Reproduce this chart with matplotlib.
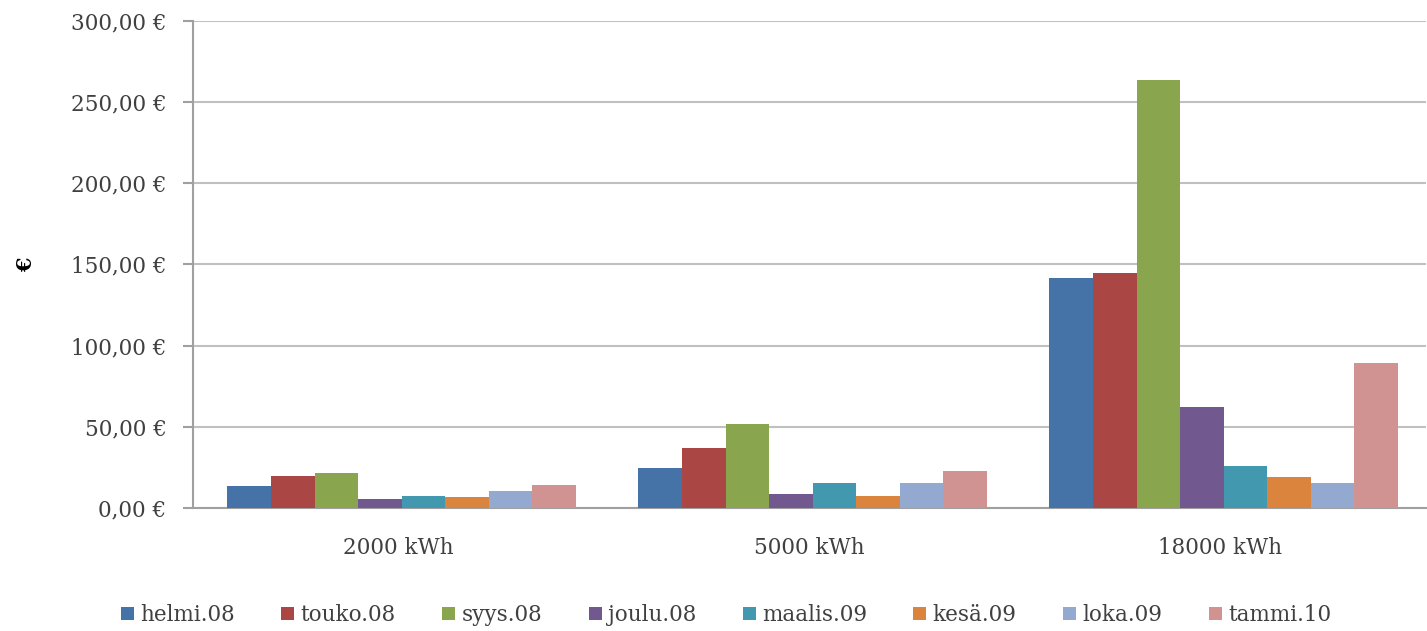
import numpy as np
import matplotlib.pyplot as plt
from matplotlib.ticker import FuncFormatter

plt.rcParams['font.family'] = ['DejaVu Serif']

categories = ['2000 kWh', '5000 kWh', '18000 kWh']
series = ['helmi.08', 'touko.08', 'syys.08', 'joulu.08', 'maalis.09', 'kesä.09', 'loka.09', 'tammi.10']
values = {
    'helmi.08':  [13.5, 24.8, 141.6],
    'touko.08':  [19.7, 36.7, 144.9],
    'syys.08':   [21.5, 51.9, 263.7],
    'joulu.08':  [5.3, 8.4, 62.0],
    'maalis.09': [7.6, 15.1, 26.0],
    'kesä.09':   [6.8, 7.6, 18.8],
    'loka.09':   [10.2, 15.1, 15.6],
    'tammi.10':  [13.9, 23.0, 89.5],
}
colors = ['#4572A7', '#AA4643', '#89A54E', '#71588F', '#4198AF', '#DB843D', '#93A9CF', '#D19392']

fig = plt.figure(figsize=(14.27, 6.31), dpi=100)
ax = fig.add_axes([0.1352, 0.195, 0.864, 0.772])

x = np.arange(len(categories))
w = 0.106
for i, s in enumerate(series):
    ax.bar(x + (i - 3.5) * w + 0.008, values[s], w, color=colors[i], label=s, zorder=3)

ax.set_xlim(-0.5, 2.5)
ax.set_ylim(0, 300)
ax.set_yticks(np.arange(0, 301, 50))
ax.yaxis.set_major_formatter(FuncFormatter(lambda v, p: f'{v:.2f}'.replace('.', ',') + ' €'))
ax.set_xticks(x)
ax.set_xticklabels(categories)
ax.grid(axis='y', color='#c0c0c0', linewidth=1.5, zorder=0)

for s in ['top', 'right']:
    ax.spines[s].set_visible(False)
ax.spines['left'].set_color('#a0a0a0')
ax.spines['bottom'].set_color('#a0a0a0')
ax.spines['left'].set_linewidth(1.5)
ax.spines['bottom'].set_linewidth(1.5)
ax.tick_params(axis='y', colors='#a0a0a0', labelcolor='#404040', labelsize=15.5, length=7, width=1.5, pad=12)
ax.tick_params(axis='x', length=0, labelcolor='#404040', labelsize=15.5, pad=21)

fig.text(0.018, 0.58, '€', rotation=90, fontsize=15, fontweight='bold', va='center', ha='center')

ax.legend(loc='center', bbox_to_anchor=(0.5 - 0.1352 / 2 + 0.0, -0.22), ncol=8, frameon=False,
          fontsize=15.5, handlelength=0.6, handleheight=0.6, handletextpad=0.3, columnspacing=2.15,
          labelcolor='#404040')

plt.savefig('out.png')
